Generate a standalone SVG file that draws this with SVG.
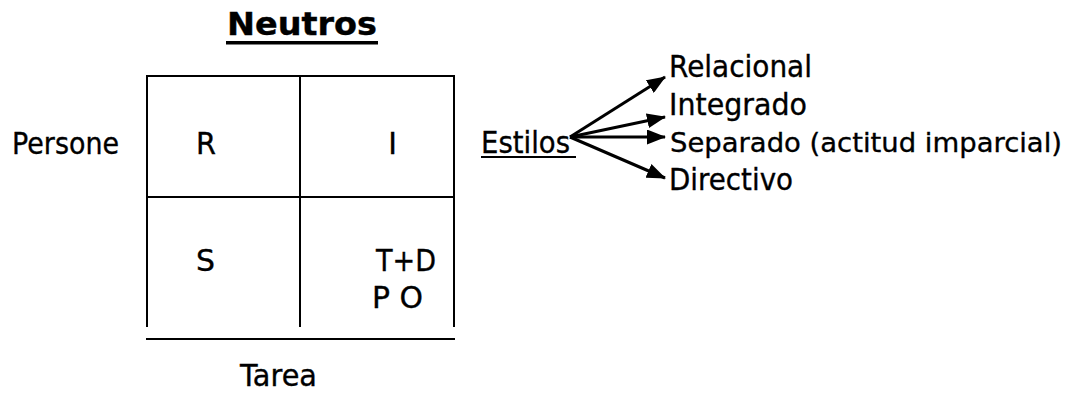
<svg xmlns="http://www.w3.org/2000/svg" width="1075" height="394" viewBox="0 0 1075 394">
  <style>
    .t { font-family: "DejaVu Sans", "Liberation Sans", sans-serif; font-size: 29.5px; fill: #000; stroke: #000; stroke-width: 0.35; }
    .long { font-size: 27.4px; }
    .title { font-family: "DejaVu Sans", "Liberation Sans", sans-serif; font-size: 32px; font-weight: bold; fill: #000; stroke: #000; stroke-width: 0.4; }
    .grid { stroke: #000; stroke-width: 2; fill: none; stroke-linecap: square; }
    .arrow { stroke: #000; stroke-width: 3; fill: none; marker-end: url(#head); }
  </style>
  <defs>
    <marker id="head" viewBox="0 0 19 15" refX="18" refY="7.5" markerWidth="19" markerHeight="15" markerUnits="userSpaceOnUse" orient="auto">
      <path d="M0,0 L19,7.5 L0,15 z" fill="#000"/>
    </marker>
  </defs>
  <rect width="1075" height="394" fill="#fff"/>

  <!-- title -->
  <g id="title">
    <text class="title" x="227" y="35" textLength="150" lengthAdjust="spacingAndGlyphs">Neutros</text>
    <rect x="226" y="41" width="152" height="3.5" fill="#000"/>
  </g>

  <!-- 2x2 grid -->
  <g id="grid">
    <path class="grid" d="M147,76 H454 M147,76 V326 M300,76 V326 M454,76 V326 M147,197 H454"/>
    <path class="grid" d="M147,339 H454"/>
  </g>

  <!-- axis labels -->
  <g id="axis-persone">
    <text class="t" x="12" y="154" textLength="107" lengthAdjust="spacingAndGlyphs">Persone</text>
  </g>
  <g id="axis-tarea">
    <text class="t" x="240" y="386" textLength="77" lengthAdjust="spacingAndGlyphs">Tarea</text>
  </g>

  <!-- quadrant letters -->
  <g id="cell-r"><text class="t" x="196" y="154" textLength="20" lengthAdjust="spacingAndGlyphs">R</text></g>
  <g id="cell-i"><text class="t" x="392.5" y="154" text-anchor="middle">I</text></g>
  <g id="cell-s"><text class="t" x="196" y="271" textLength="19" lengthAdjust="spacingAndGlyphs">S</text></g>
  <g id="cell-td">
    <text class="t" x="376" y="271" textLength="60" lengthAdjust="spacingAndGlyphs">T+D</text>
    <text class="t" x="372" y="308" textLength="51" lengthAdjust="spacingAndGlyphs">P O</text>
  </g>

  <!-- styles -->
  <g id="estilos">
    <text class="t" x="481" y="153" textLength="89" lengthAdjust="spacingAndGlyphs">Estilos</text>
    <rect x="481" y="156" width="95" height="2" fill="#000"/>
  </g>
  <g id="relacional"><text class="t" x="669" y="77" textLength="143" lengthAdjust="spacingAndGlyphs">Relacional</text></g>
  <g id="integrado"><text class="t" x="669" y="115" textLength="138" lengthAdjust="spacingAndGlyphs">Integrado</text></g>
  <g id="separado"><text class="t long" x="670" y="152" textLength="392" lengthAdjust="spacingAndGlyphs">Separado (actitud imparcial)</text></g>
  <g id="directivo"><text class="t" x="669" y="190" textLength="124" lengthAdjust="spacingAndGlyphs">Directivo</text></g>

  <!-- connectors -->
  <g id="connectors">
    <path class="arrow" d="M570,137 L665,77"/>
    <path class="arrow" d="M570,137 L665,117"/>
    <path class="arrow" d="M570,137 L665,137"/>
    <path class="arrow" d="M570,137 L665,178"/>
  </g>
</svg>
